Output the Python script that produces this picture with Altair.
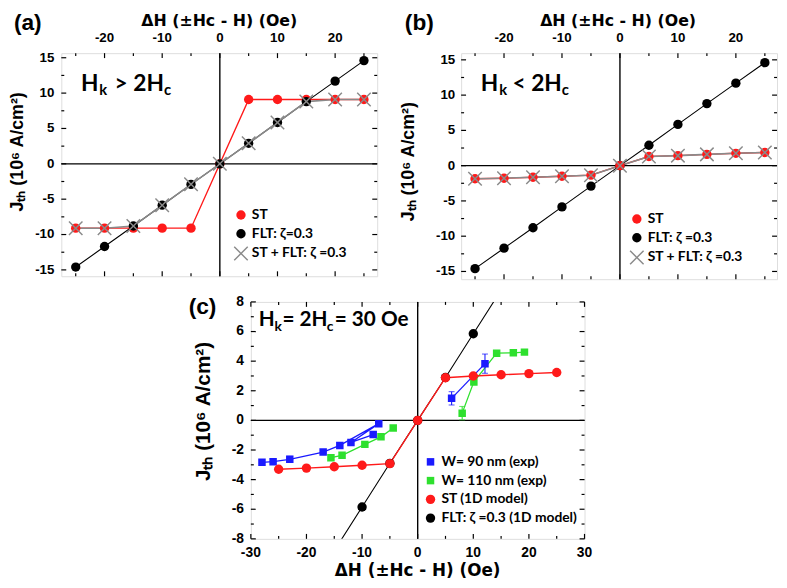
import altair as alt
import pandas as pd

# ---------------- data ----------------
DH_MODEL = [-25, -20, -15, -10, -5, 0, 5, 10, 15, 20, 25]
A_ST = [-9.1, -9.1, -9.1, -9.1, -9.1, 0, 9.1, 9.1, 9.1, 9.1, 9.1]
FLT = [-14.6, -11.7, -8.8, -5.85, -2.9, 0, 2.9, 5.85, 8.8, 11.7, 14.6]
A_STFLT = [-9.1, -9.1, -8.8, -5.85, -2.9, 0, 2.9, 5.85, 8.8, 9.1, 9.1]
B_ST = [-1.85, -1.78, -1.65, -1.5, -1.35, 0, 1.3, 1.42, 1.6, 1.75, 1.87]
B_STFLT = [-1.85, -1.78, -1.65, -1.5, -1.35, 0, 1.3, 1.42, 1.6, 1.75, 1.87]
C_ST = [-3.3, -3.22, -3.13, -3.03, -2.92, 0, 2.88, 3.0, 3.08, 3.16, 3.23]

W90_DH = [-28, -26, -23, -17, -14, -7, -12, -8, 6.1, 12.1]
W90_J = [-2.83, -2.79, -2.63, -2.14, -1.69, -0.22, -1.49, -0.96, 1.49, 3.83]
W90_ERR = [0.15, 0.0, 0.2, 0.0, 0.0, 0.0, 0.0, 0.0, 0.45, 0.65]
W90_SEG = [0, 0, 0, 0, 0, 0, 0, 0, 1, 1]

W110_DH = [-15.6, -13.6, -9.5, -6.6, -4.4, 8.0, 10.1, 14.2, 17.2, 19.2]
W110_J = [-2.52, -2.36, -1.62, -1.11, -0.51, 0.49, 2.6, 4.54, 4.56, 4.61]
W110_ERR = [0, 0, 0, 0, 0, 0.45, 0, 0, 0, 0]
W110_SEG = [0, 0, 0, 0, 0, 1, 1, 1, 1, 1]

AB_X_LABELS = [-20, -10, 0, 10, 20]
AB_X_MINOR = [-25, -15, -5, 5, 15, 25]
AB_Y_LABELS = [-15, -10, -5, 0, 5, 10, 15]
AB_Y_MINOR = [-12.5, -7.5, -2.5, 2.5, 7.5, 12.5]
C_X_LABELS = [-30, -20, -10, 0, 10, 20, 30]
C_X_MINOR = [-25, -15, -5, 5, 15, 25]
C_Y_LABELS = [-8, -6, -4, -2, 0, 2, 4, 6, 8]
C_Y_MINOR = [-7, -5, -3, -1, 1, 3, 5, 7]

X_TITLE = "ΔH (±Hc - H) (Oe)"
Y_TITLE = "Jₜₕ (10⁶ A/cm²)"

CROSS = ("M-1.55,-1.33L-1.33,-1.55L0,-0.22L1.33,-1.55L1.55,-1.33L0.22,0"
         "L1.55,1.33L1.33,1.55L0,0.22L-1.33,1.55L-1.55,1.33L-0.22,0Z")
SQUARE = "M-0.8,-0.8H0.8V0.8H-0.8Z"

RED = "#ff1a1a"
GRAY = "#8a8a8a"
BLUE = "#1a1aff"
GREEN = "#2ee02e"

ONE = pd.DataFrame({"z": [0]})


def series_frame(name, xs, ys, draw, err=None, seg=None):
    n = len(xs)
    return pd.DataFrame({
        "dh": xs, "j": ys, "s": name, "draw": draw,
        "err": err if err is not None else [0] * n,
        "seg": seg if seg is not None else [0] * n,
        "ord": list(range(n)),
    })


def text_piece(t, x, y, size, font="Lato", angle=0, align="left", baseline="alphabetic"):
    return alt.Chart(ONE).mark_text(
        text=t, font=font, fontSize=size, fontWeight="bold", align=align,
        baseline=baseline, color="black", angle=angle
    ).encode(x=alt.value(x), y=alt.value(y))


def panel(series, legend_order, xdom, ydom, w, h, xlabels, xminor, ylabels, yminor,
          xlab_y, xtitle, ylab_x, ytitle, lab_fs, lx, ly, rowpad, psize, pieces, tag,
          anchor=False):
    xs = alt.Scale(domain=xdom, nice=False, zero=False)
    ys = alt.Scale(domain=ydom, nice=False, zero=False)
    df = pd.concat([series_frame(s["name"], s["x"], s["y"], i, s.get("err"), s.get("seg"))
                    for i, s in enumerate(series)], ignore_index=True)
    by_name = {s["name"]: s for s in series}
    colors = [by_name[n]["color"] for n in legend_order]
    shapes = [by_name[n]["shape"] for n in legend_order]
    leg = alt.Legend(title=None, orient="none", legendX=lx, legendY=ly, labelFont="Lato",
                     labelFontSize=14, labelFontWeight="bold", labelColor="black",
                     symbolSize=psize, rowPadding=rowpad, labelOffset=4, padding=0,
                     symbolStrokeWidth=0, symbolOpacity=1, labelLimit=300)

    base = alt.Chart(df)
    X = alt.X("dh:Q", scale=xs, axis=None)
    Y = alt.Y("j:Q", scale=ys, axis=None)
    layers = []
    # zero lines
    layers.append(alt.Chart(ONE).mark_rule(color="black", strokeWidth=1.4).encode(
        x=alt.X("z:Q", scale=xs, axis=None)))
    layers.append(alt.Chart(ONE).mark_rule(color="black", strokeWidth=1.4).encode(
        y=alt.Y("z:Q", scale=ys, axis=None)))

    # inward ticks on all four sides
    def xt(vals, y0, y1):
        return alt.Chart(pd.DataFrame({"v": vals})).mark_rule(color="black", strokeWidth=1.2).encode(
            x=alt.X("v:Q", scale=xs, axis=None), y=alt.value(y0), y2=alt.value(y1))

    def yt(vals, x0, x1):
        return alt.Chart(pd.DataFrame({"v": vals})).mark_rule(color="black", strokeWidth=1.2).encode(
            y=alt.Y("v:Q", scale=ys, axis=None), x=alt.value(x0), x2=alt.value(x1))
    layers += [xt(xlabels, 0, 5), xt(xminor, 0, 3), xt(xlabels, h, h - 5), xt(xminor, h, h - 3),
               yt(ylabels, 0, 5), yt(yminor, 0, 3), yt(ylabels, w, w - 5), yt(yminor, w, w - 3)]

    # tick labels
    xl = pd.DataFrame({"v": xlabels, "t": [f"{v:g}" for v in xlabels]})
    yl = pd.DataFrame({"v": ylabels, "t": [f"{v:g}" for v in ylabels]})
    layers.append(alt.Chart(xl).mark_text(font="Liberation Sans", fontWeight="bold", fontSize=lab_fs,
                                          baseline="alphabetic", align="center", color="black").encode(
        x=alt.X("v:Q", scale=xs, axis=None), y=alt.value(xlab_y), text="t:N"))
    layers.append(alt.Chart(yl).mark_text(font="Liberation Sans", fontWeight="bold", fontSize=lab_fs,
                                          baseline="middle", align="right", color="black").encode(
        y=alt.Y("v:Q", scale=ys, axis=None), x=alt.value(ylab_x), text="t:N"))
    # axis titles
    layers.append(text_piece(X_TITLE, xtitle[0], xtitle[1], xtitle[2], font="DejaVu Sans",
                             align="center"))
    layers.append(text_piece(Y_TITLE, ytitle[0], ytitle[1], ytitle[2], font="Liberation Sans",
                             angle=270, align="center", baseline="middle"))

    # lines
    for s in series:
        layers.append(base.transform_filter(alt.datum.s == s["name"]).mark_line(
            color=s["lcolor"], strokeWidth=s["lw"], clip=True).encode(
            x=X, y=Y, detail="seg:N", order="ord:Q"))
    # error bars
    for s in series:
        if s.get("err"):
            eb = base.transform_filter((alt.datum.s == s["name"]) & (alt.datum.err > 0)).transform_calculate(
                lo="datum.j - datum.err", hi="datum.j + datum.err")
            layers.append(eb.mark_rule(color=s["color"], strokeWidth=1.1).encode(
                x=X, y=alt.Y("lo:Q", scale=ys, axis=None), y2="hi:Q"))
            for f in ("lo", "hi"):
                layers.append(eb.mark_tick(color=s["color"], orient="horizontal", size=6,
                                           thickness=1.1).encode(
                    x=X, y=alt.Y(f + ":Q", scale=ys, axis=None)))
    # points (with legend)
    layers.append(base.mark_point(filled=True, opacity=1, size=psize, clip=True).encode(
        x=X, y=Y,
        color=alt.Color("s:N", scale=alt.Scale(domain=legend_order, range=colors), legend=leg),
        shape=alt.Shape("s:N", scale=alt.Scale(domain=legend_order, range=shapes), legend=leg),
        order=alt.Order("draw:Q"),
    ))
    # in-plot annotation and panel tag
    for t, x, y, size in pieces:
        layers.append(text_piece(t, x, y, size))
    layers.append(text_piece(tag[0], tag[1], tag[2], tag[3], font="Liberation Sans"))
    if anchor:
        layers.append(alt.Chart(ONE).mark_rule(color="white", strokeWidth=1).encode(
            x=alt.value(-52.5), y=alt.value(-40.5), y2=alt.value(-39.5)))
    return alt.layer(*layers).properties(width=w, height=h)


ser_a = [
    dict(name="ST", x=DH_MODEL, y=A_ST, color=RED, lcolor=RED, lw=1.4, shape="circle"),
    dict(name="FLT: ζ=0.3", x=DH_MODEL, y=FLT, color="black", lcolor="black", lw=1.1, shape="circle"),
    dict(name="ST + FLT: ζ =0.3", x=DH_MODEL, y=A_STFLT, color=GRAY, lcolor=GRAY, lw=1.6, shape=CROSS),
]
pa = panel(ser_a, ["ST", "FLT: ζ=0.3", "ST + FLT: ζ =0.3"], [-27.5, 27.3], [-15.9, 15.65],
           320, 226, AB_X_LABELS, AB_X_MINOR, AB_Y_LABELS, AB_Y_MINOR,
           -11, (160, -28, 16), -7, (-44, 100, 18), 13.5, 175, 157, 5, 90,
           [("H", 20, 38, 23), ("k", 38.5, 42, 15), ("> 2H", 54, 38, 23), ("c", 104, 42, 15)],
           ("(a)", -48, -23, 23), anchor=True)

ser_b = [
    dict(name="FLT: ζ =0.3", x=DH_MODEL, y=FLT, color="black", lcolor="black", lw=1.1, shape="circle"),
    dict(name="ST", x=DH_MODEL, y=B_ST, color=RED, lcolor=RED, lw=1.4, shape="circle"),
    dict(name="ST + FLT: ζ =0.3 ", x=DH_MODEL, y=B_STFLT, color=GRAY, lcolor=GRAY, lw=1.6, shape=CROSS),
]
pb = panel(ser_b, ["ST", "FLT: ζ =0.3", "ST + FLT: ζ =0.3 "], [-27.4, 27.1], [-16.1, 15.95],
           320, 229, AB_X_LABELS, AB_X_MINOR, AB_Y_LABELS, AB_Y_MINOR,
           -11, (159, -28, 16), -6, (-53, 110, 18), 13.5, 171, 161, 5, 90,
           [("H", 20, 38, 23), ("k", 38.5, 42, 15), ("< 2H", 52, 38, 23), ("c", 102, 42, 15)],
           ("(b)", -57, -23, 23))

ser_c = [
    dict(name="FLT: ζ =0.3 (1D model)", x=DH_MODEL, y=FLT, color="black", lcolor="black", lw=1.1, shape="circle"),
    dict(name="W= 90 nm (exp)", x=W90_DH, y=W90_J, err=W90_ERR, seg=W90_SEG, color=BLUE, lcolor=BLUE, lw=1.3, shape=SQUARE),
    dict(name="W= 110 nm (exp)", x=W110_DH, y=W110_J, err=W110_ERR, seg=W110_SEG, color=GREEN, lcolor=GREEN, lw=1.3, shape=SQUARE),
    dict(name="ST (1D model)", x=DH_MODEL, y=C_ST, color=RED, lcolor=RED, lw=1.4, shape="circle"),
]
pc = panel(ser_c, ["W= 90 nm (exp)", "W= 110 nm (exp)", "ST (1D model)", "FLT: ζ =0.3 (1D model)"],
           [-30, 30], [-8, 8], 338, 240, C_X_LABELS, C_X_MINOR, C_Y_LABELS, C_Y_MINOR,
           258, (169, 278, 17), -7, (-47, 111, 21), 14, 175, 155, 5, 90,
           [("H", 8, 24, 21), ("k", 24, 29, 14), ("= 2H", 32, 24, 21), ("c", 77, 29, 14),
            ("= 30 Oe", 85, 24, 21)],
           ("(c)", -63, 12, 23))

spacer = alt.Chart(ONE).mark_point(opacity=0).encode(
    x=alt.value(20), y=alt.value(5)).properties(
    width=128, height=10, view=alt.ViewBackground(strokeOpacity=0, strokeWidth=0))

top = alt.hconcat(pa, pb, spacing=20).resolve_scale(
    x="independent", y="independent", color="independent", shape="independent").resolve_legend(
    color="independent", shape="independent")
bottom = alt.hconcat(spacer, pc, spacing=0).resolve_scale(
    x="independent", y="independent", color="independent", shape="independent").resolve_legend(
    color="independent", shape="independent")
chart = alt.vconcat(top, bottom, spacing=13).resolve_scale(
    x="independent", y="independent", color="independent", shape="independent").resolve_legend(
    color="independent", shape="independent").properties(padding=0).configure_view(
    stroke="black", strokeWidth=1.5).configure(background="white")

chart.save("out.html", embed_options={"renderer": "svg", "actions": False})
